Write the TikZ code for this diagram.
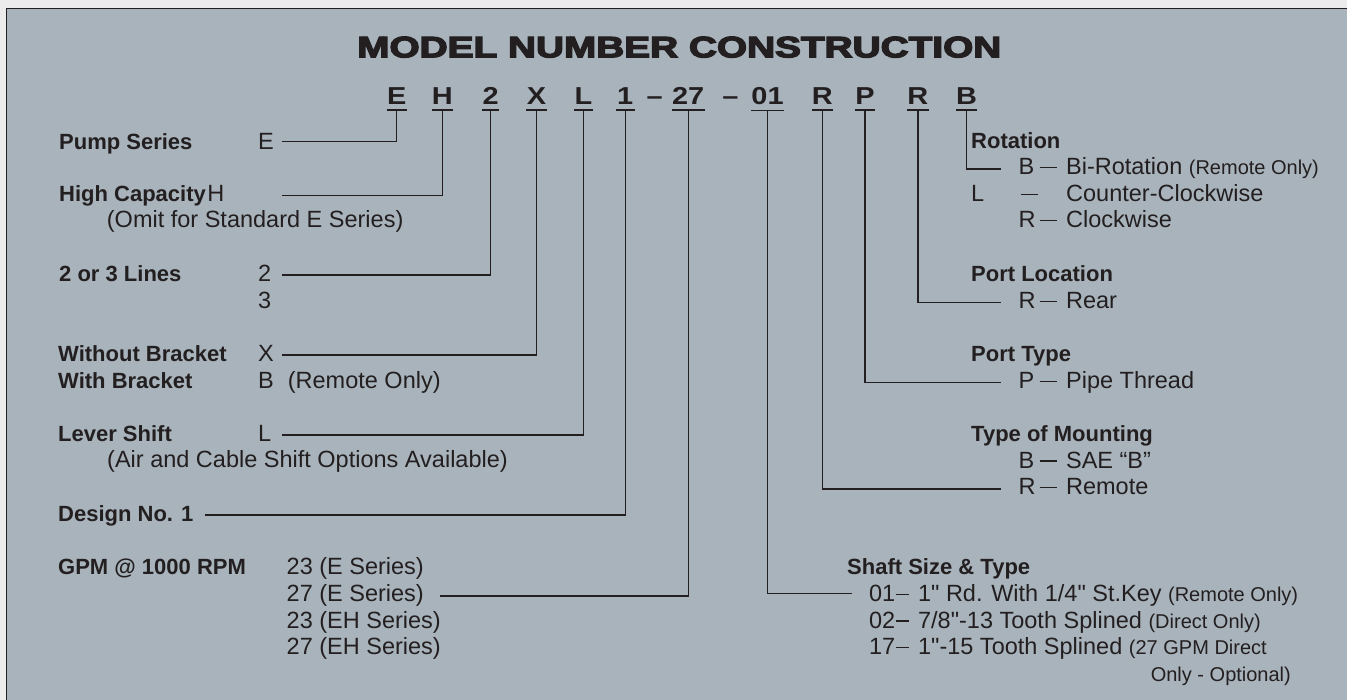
\documentclass[tikz,border=0pt]{standalone}
\usepackage{fontspec}
\setmainfont{Liberation Sans}
\newfontfamily\qfont{Liberation Sans}[Ligatures=ResetAll]
\newfontfamily\titlefont{Liberation Sans}[BoldFeatures={FakeBold=4}]
\definecolor{bgc}{RGB}{168,179,187}
\definecolor{outc}{RGB}{236,236,236}
\definecolor{ink}{RGB}{35,31,32}
\newcommand{\rdash}{\rule[6.5pt]{17pt}{1.1pt}}
\newcommand{\ndash}{\rule[6.5pt]{13pt}{1.1pt}}
\newcommand{\sm}[1]{{\fontsize{20}{22}\selectfont #1}}
\newcommand{\cl}[1]{\scalebox{1.18}[1]{#1}}
\newcommand{\inch}{{\qfont\symbol{34}}}
\begin{document}
\begin{tikzpicture}[x=1pt,y=-1pt,
  every node/.style={inner sep=0pt, text=ink},
  lbl/.style={anchor=base west, font=\bfseries\fontsize{22}{26}\selectfont},
  val/.style={anchor=base west, font=\fontsize{23.5}{26.7}\selectfont},
  code/.style={anchor=base, inner xsep=0pt, inner ysep=5pt, font=\bfseries\fontsize{24.5}{25}\selectfont},
  uline/.style={draw=ink, line width=1.6pt},
  conn/.style={draw=ink, line width=1.2pt},
]
\useasboundingbox (0,0) rectangle (1347,700);
\fill[outc] (0,0) rectangle (1347,700);
\fill[bgc] (6.5,8.5) rectangle (1347,700);
\draw[draw=ink, line width=1.5pt] (6.5,700) -- (6.5,8.5) -- (1347,8.5);

% title
\node[anchor=base west] (title) at (357,57.3) {\resizebox{644pt}{20.6pt}{\titlefont\bfseries MODEL NUMBER CONSTRUCTION}};

% code letters
\node[code, minimum width=19.9pt] (cE) at (396.8,105) {\cl{E}};
\node[code, minimum width=21pt] (cH) at (442.2,105) {\cl{H}};
\node[code, minimum width=16pt] (c2) at (490.6,105) {\cl{2}};
\node[code, minimum width=19.9pt] (cX) at (536.5,105) {\cl{X}};
\node[code, minimum width=18pt] (cL) at (583.4,105) {\cl{L}};
\node[code, minimum width=18.5pt] (c1) at (625.2,105) {\cl{1}};
\node[code] (d1) at (654.6,105) {\cl{–}};
\node[code, minimum width=32.5pt] (c27) at (688.2,105) {\cl{27}};
\node[code] (d2) at (730.4,105) {\cl{–}};
\node[code, minimum width=17.2pt] (c01) at (767.5,105) {\cl{01}};
\node[code, minimum width=21pt] (cR1) at (822.2,105) {\cl{R}};
\node[code, minimum width=19.5pt] (cP) at (865,105) {\cl{P}};
\node[code, minimum width=21pt] (cR2) at (917.9,105) {\cl{R}};
\node[code, minimum width=21pt] (cB) at (966.5,105) {\cl{B}};
\foreach \n in {cE,cH,c2,cX,cL,c1,c27,c01,cR1,cP,cR2,cB}
  \draw[uline] (\n.south west) -- (\n.south east);

% left column
\node[lbl] (pump) at (59,149.3) {Pump Series};
\node[val] (vE) at (258,149.3) {E};
\node[lbl] (high) at (59,201.7) {High Capacity};
\node[val] (vH) at ([xshift=1pt]high.base east) {H};
\node[val] (omit) at (106.7,228) {(Omit for Standard E Series)};
\node[lbl] (lines) at (59,281.7) {2 or 3 Lines};
\node[val] (v2) at (258,281.7) {2};
\node[val] (v3) at (258,308.3) {3};
\node[lbl] (wob) at (58,361.7) {Without Bracket};
\node[val] (vX) at (258,361.7) {X};
\node[lbl] (wb) at (58,388.3) {With Bracket};
\node[val] (vB) at (258,388.3) {B\hspace{14pt}(Remote Only)};
\node[lbl] (lever) at (58,441.7) {Lever Shift};
\node[val] (vL) at (258,441.7) {L};
\node[val] (air) at (107,467.7) {(Air and Cable Shift Options Available)};
\node[lbl] (design) at (58,521.7) {Design No. 1};
\node[lbl] (gpm) at (58,574.7) {GPM @ 1000 RPM};
\node[val] (g1) at (286.5,574.7) {23 (E Series)};
\node[val] (g2) at (286.5,601.3) {27 (E Series)};
\node[val] (g3) at (286.5,628) {23 (EH Series)};
\node[val] (g4) at (286.5,654.7) {27 (EH Series)};

% right column
\node[lbl] (rot) at (971,148.3) {Rotation};
\node[val] (rB) at (1018.5,174.5) {\makebox[20.9pt][l]{B}\rdash\hspace{9.5pt}Bi-Rotation \sm{(Remote Only)}};
\node[val] (rL) at (971,201.2) {\makebox[50pt][l]{L}\rdash\hspace{28pt}Counter-Clockwise};
\node[val] (rR) at (1018.5,228) {\makebox[20.9pt][l]{R}\rdash\hspace{9.5pt}Clockwise};
\node[lbl] (ploc) at (971,281.7) {Port Location};
\node[val] (rear) at (1018.5,308.3) {\makebox[20.9pt][l]{R}\rdash\hspace{9.5pt}Rear};
\node[lbl] (ptype) at (971,361.7) {Port Type};
\node[val] (pipe) at (1018.5,388.3) {\makebox[20.9pt][l]{P}\rdash\hspace{9.5pt}Pipe Thread};
\node[lbl] (mount) at (971,441.7) {Type of Mounting};
\node[val] (sae) at (1018.5,468) {\makebox[20.9pt][l]{B}\rdash\hspace{9.5pt}SAE “B”};
\node[val] (remote) at (1018.5,494.3) {\makebox[20.9pt][l]{R}\rdash\hspace{9.5pt}Remote};
\node[lbl] (shaft) at (847,574.7) {Shaft Size \& Type};
\node[val] (s01) at (868.8,601.3) {\makebox[26.5pt][l]{01}\ndash\hspace{9.6pt}1\inch\ Rd. With 1/4\inch\ St.Key \sm{(Remote Only)}};
\node[val] (s02) at (868.8,628) {\makebox[26.5pt][l]{02}\ndash\hspace{9.6pt}7/8\inch-13 Tooth Splined \sm{(Direct Only)}};
\node[val] (s17) at (868.8,654.7) {\makebox[26.5pt][l]{17}\ndash\hspace{9.6pt}1\inch-15 Tooth Splined \sm{(27 GPM Direct}};
\node[val] (s17b) at (1150.6,681.3) {\sm{Only - Optional)}};

% connector end points
\coordinate (eE) at (281.7,141.7);
\coordinate (eH) at (281.7,195.7);
\coordinate (e2) at (282,275);
\coordinate (eX) at (282,355);
\coordinate (eL) at (282,435);
\coordinate (e1) at (204.5,515);
\coordinate (e27) at (440,596);
\coordinate (e01) at (852,593.3);
\coordinate (eR1) at (1001.3,489);
\coordinate (eP) at (1001.3,382.3);
\coordinate (eR2) at (1001.3,302.3);
\coordinate (eB) at (1001.3,169);

\draw[conn] (cE.south) |- (eE);
\draw[conn] (cH.south) |- (eH);
\draw[conn] (c2.south) |- (e2);
\draw[conn] (cX.south) |- (eX);
\draw[conn] (cL.south) |- (eL);
\draw[conn] (c1.south) |- (e1);
\draw[conn] (c27.south) |- (e27);
\draw[conn] (c01.south) |- (e01);
\draw[conn] (cR1.south) |- (eR1);
\draw[conn] (cP.south) |- (eP);
\draw[conn] (cR2.south) |- (eR2);
\draw[conn] (cB.south) |- (eB);
\end{tikzpicture}
\end{document}
